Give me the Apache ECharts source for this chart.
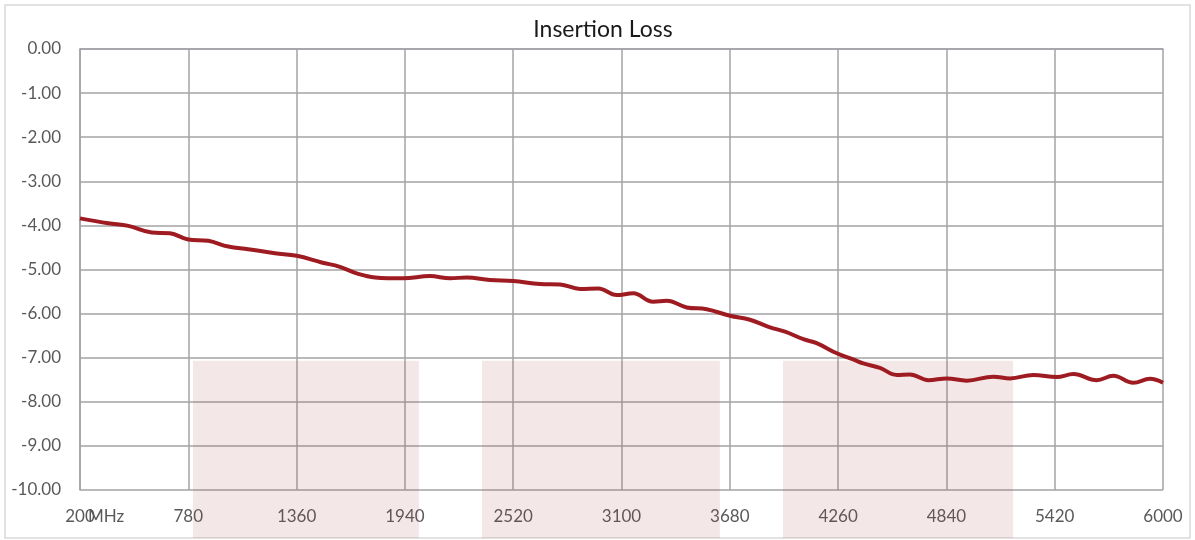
<!DOCTYPE html>
<html>
<head>
<meta charset="utf-8">
<title>Insertion Loss</title>
<script src="https://cdn.jsdelivr.net/npm/echarts@6/dist/echarts.min.js"></script>
<style>
    html, body { margin: 0; padding: 0; background: #fff; }
    #chart { width: 1195px; height: 540px; }
</style>
</head>
<body>
<div id="chart"></div>
<script>
// 频率 (MHz)
var freq = [200, 352, 459, 584, 682, 780, 887, 994, 1101, 1244, 1361, 1494, 1592, 1690, 1780, 1931,
    2074, 2182, 2271, 2396, 2521, 2664, 2771, 2878, 2976, 3074, 3163, 3270, 3342, 3449, 3556, 3681,
    3788, 3895, 3976, 4074, 4145, 4253, 4341, 4395, 4484, 4574, 4645, 4743, 4842, 4949, 5091, 5181,
    5305, 5431, 5520, 5645, 5734, 5841, 5930, 6000];
// 插入损耗 (dB)
var loss = [-3.84, -3.95, -4.01, -4.16, -4.18, -4.32, -4.35, -4.48, -4.54, -4.63, -4.69, -4.84, -4.94, -5.10, -5.18, -5.20,
    -5.15, -5.20, -5.18, -5.24, -5.26, -5.33, -5.34, -5.44, -5.43, -5.58, -5.54, -5.73, -5.71, -5.86, -5.90, -6.05,
    -6.14, -6.31, -6.41, -6.58, -6.67, -6.90, -7.04, -7.13, -7.23, -7.39, -7.38, -7.51, -7.47, -7.52, -7.43, -7.47,
    -7.39, -7.44, -7.37, -7.51, -7.41, -7.57, -7.48, -7.57];
// 频带 (阴影区)
var bandStart = [805, 2353, 3965];
var bandEnd = [2015, 3627, 5197];
var bandTop = -7.07;
var bandBottom = -11.09;
// 坐标轴
var xMin = 200, xMax = 6000, xStep = 580;
var yMin = -10, yMax = 0, yStep = 1;

var font = 'Lato, "Open Sans", sans-serif';
var gridColor = '#a3a3a7';

var chart = echarts.init(document.getElementById('chart'));

var lineData = [];
for (var i = 0; i < freq.length; i++) {
    lineData.push([freq[i] - xMin, loss[i]]);
}
var bands = [];
for (var j = 0; j < bandStart.length; j++) {
    bands.push([bandStart[j] - xMin, bandEnd[j] - xMin, bandTop, bandBottom]);
}

chart.setOption({
    animation: false,
    textStyle: {fontFamily: font},
    grid: {left: 80, right: 32, top: 49, bottom: 50},
    graphic: [{
        type: 'rect',
        shape: {x: 5, y: 5, width: 1185, height: 533},
        style: {fill: 'none', stroke: '#d9d9d9', lineWidth: 1.5},
        silent: true, z: -10
    }, {
        type: 'text',
        x: 603, y: 30,
        style: {text: 'Insertion Loss', fill: '#1a1a1a', font: '23px ' + font, textAlign: 'center', textVerticalAlign: 'middle'},
        silent: true
    }, {
        type: 'text',
        x: 88, y: 517,
        style: {text: 'MHz', fill: '#595959', font: '17px ' + font, textAlign: 'left', textVerticalAlign: 'middle'},
        silent: true, z: 10
    }],
    xAxis: {
        type: 'value',
        min: 0,
        max: xMax - xMin,
        interval: xStep,
        axisLine: {show: true, lineStyle: {color: gridColor, width: 1.5}},
        axisTick: {show: false},
        splitLine: {show: true, lineStyle: {color: gridColor, width: 1.5}},
        axisLabel: {
            color: '#595959', fontSize: 17, margin: 18, fontFamily: font,
            formatter: function (v) { return String(v + xMin); }
        }
    },
    yAxis: {
        type: 'value',
        min: yMin,
        max: yMax,
        interval: yStep,
        axisLine: {show: true, lineStyle: {color: gridColor, width: 1.5}},
        axisTick: {show: false},
        splitLine: {show: true, lineStyle: {color: gridColor, width: 1.5}},
        axisLabel: {
            color: '#595959', fontSize: 17, margin: 19, fontFamily: font,
            formatter: function (v) { return v.toFixed(2); }
        }
    },
    series: [{
        // 阴影频带, 延伸到图表底边
        type: 'custom',
        silent: true,
        clip: false,
        z: 3,
        data: bands,
        renderItem: function (params, api) {
            var p1 = api.coord([api.value(0), api.value(2)]);
            var p2 = api.coord([api.value(1), api.value(3)]);
            return {
                type: 'rect',
                shape: {x: p1[0], y: p1[1], width: p2[0] - p1[0], height: p2[1] - p1[1]},
                style: {fill: 'rgba(170, 70, 75, 0.13)'}
            };
        }
    }, {
        type: 'line',
        name: 'Insertion Loss',
        data: lineData,
        smooth: 0.4,
        showSymbol: false,
        lineStyle: {color: '#9e1c21', width: 4},
        z: 5
    }]
});
</script>
</body>
</html>
